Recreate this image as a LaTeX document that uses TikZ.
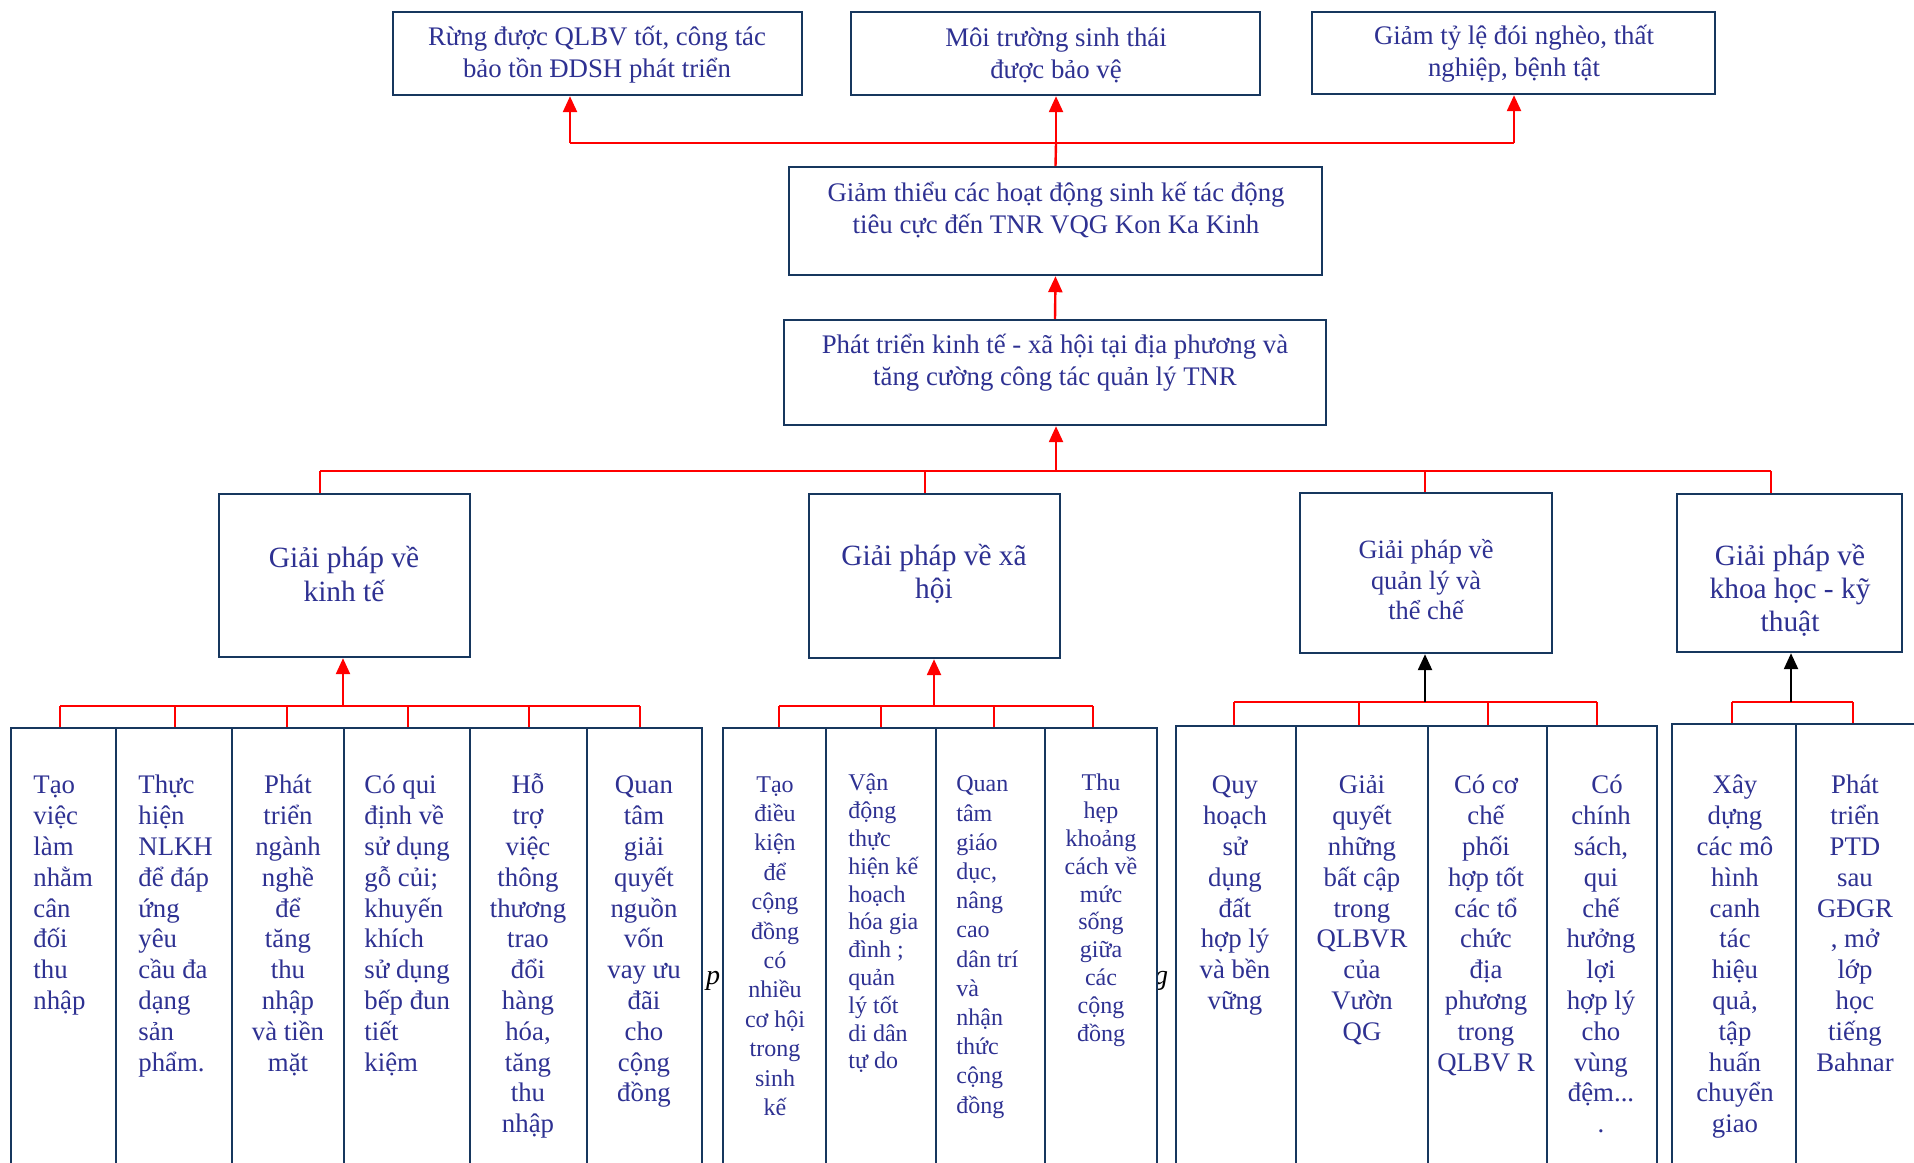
\documentclass[tikz,border=0pt]{standalone}
\usepackage{fontspec}
\setmainfont{Liberation Serif}
\usetikzlibrary{fit,arrows.meta}
\definecolor{txtblue}{RGB}{46,49,146}
\definecolor{boxblue}{RGB}{23,55,94}
\newcommand\bx[5]{\node[box,fit={(#2,#3) (#4,#5)}] (#1) {};}
\begin{document}
\begin{tikzpicture}[x=0.5pt,y=-0.5pt,
  box/.style={draw=boxblue,line width=1.2pt,fill=white,inner sep=0pt},
  txt/.style={text=txtblue,inner sep=0pt,align=center,font=\fontsize{13.4}{16}\selectfont},
  head/.style={txt,font=\fontsize{14.7}{16.6}\selectfont},
  cola/.style={text=txtblue,inner sep=0pt,anchor=north,align=center,font=\fontsize{13.4}{15.4}\selectfont},
  coll/.style={cola,anchor=north west,align=left},
  colb/.style={cola,font=\fontsize{12}{14.7}\selectfont},
  colbl/.style={coll,font=\fontsize{12}{13.9}\selectfont},
  redline/.style={draw=red,line width=1.2pt},
  redarrow/.style={redline,-{Triangle[length=8pt,width=7pt]}},
  blackarrow/.style={draw=black,line width=1.2pt,-{Triangle[length=8pt,width=7pt]}},
  stray/.style={inner sep=0pt,font=\fontsize{14}{16}\selectfont\itshape}]
\useasboundingbox (0,0) rectangle (1914,1162);
\clip (0,0) rectangle (1914,1162);

% fragments of a hidden caption
\node[stray] (sp) at (713,981) {p};
\node[stray] (sg) at (1161,981) {g};

% top level
\bx{t1}{393}{12}{802}{95}
\bx{t2}{851}{12}{1260}{95}
\bx{t3}{1312}{12}{1715}{94}
\node[txt] (t1t) at (597,55) {Rừng được QLBV tốt, công tác\\bảo tồn ĐDSH phát triển};
\node[txt] (t2t) at (1056,55) {Môi trường sinh thái\\được bảo vệ};
\node[txt] (t3t) at (1514,54) {Giảm tỷ lệ đói nghèo, thất\\nghiệp, bệnh tật};

\bx{m1}{789}{167}{1322}{275}
\node[txt] (m1t) at (1056,210) {Giảm thiểu các hoạt động sinh kế tác động\\tiêu cực đến TNR VQG Kon Ka Kinh};
\bx{m2}{784}{320}{1326}{425}
\node[txt] (m2t) at (1055,363) {Phát triển kinh tế - xã hội tại địa phương và\\tăng cường công tác quản lý TNR};

% level 3
\bx{k}{219}{494}{470}{657}
\bx{xh}{809}{494}{1060}{658}
\bx{q}{1300}{493}{1552}{653}
\bx{s}{1677}{494}{1902}{652}
\node[head] (kt) at (344,574) {Giải pháp về\\kinh tế};
\node[head] (xht) at (934,574) {Giải pháp về xã\\hội};
\node[txt,font=\fontsize{13.2}{15.25}\selectfont] (qt) at (1426,580) {Giải pháp về\\quản lý và\\thể chế};
\node[head] (st) at (1790,590) {Giải pháp về\\khoa học - kỹ\\thuật};

% bottom columns
\bx{a1}{11}{728}{116}{1190}
\bx{a2}{116}{728}{232}{1190}
\bx{a3}{232}{728}{344}{1190}
\bx{a4}{344}{728}{470}{1190}
\bx{a5}{470}{728}{587}{1190}
\bx{a6}{587}{728}{702}{1190}
\bx{b1}{723}{728}{826}{1190}
\bx{b2}{826}{728}{936}{1190}
\bx{b3}{936}{728}{1045}{1190}
\bx{b4}{1045}{728}{1157}{1190}
\bx{c1}{1176}{726}{1296}{1190}
\bx{c2}{1296}{726}{1428}{1190}
\bx{c3}{1428}{726}{1547}{1190}
\bx{c4}{1547}{726}{1657}{1190}
\bx{d1}{1672}{724}{1796}{1190}
\bx{d2}{1796}{724}{1950}{1190}

\node[coll] (a1t) at (33,772) {\strut Tạo\\việc\\làm\\nhằm\\cân\\đối\\thu\\nhập};
\node[coll] (a2t) at (138,772) {\strut Thực\\hiện\\NLKH\\để đáp\\ứng\\yêu\\cầu đa\\dạng\\sản\\phẩm.};
\node[cola] (a3t) at (288,772) {\strut Phát\\triển\\ngành\\nghề\\để\\tăng\\thu\\nhập\\và tiền\\mặt};
\node[coll] (a4t) at (364,772) {\strut Có qui\\định về\\sử dụng\\gỗ củi;\\khuyến\\khích\\sử dụng\\bếp đun\\tiết\\kiệm};
\node[cola] (a5t) at (528,772) {\strut Hỗ\\trợ\\việc\\thông\\thương\\trao\\đổi\\hàng\\hóa,\\tăng\\thu\\nhập};
\node[cola] (a6t) at (644,772) {\strut Quan\\tâm\\giải\\quyết\\nguồn\\vốn\\vay ưu\\đãi\\cho\\cộng\\đồng};

\node[colb] (b1t) at (775,771) {\strut Tạo\\điều\\kiện\\để\\cộng\\đồng\\có\\nhiều\\cơ hội\\trong\\sinh\\kế};
\node[colbl] (b2t) at (848,771) {\strut Vận\\động\\thực\\hiện kế\\hoạch\\hóa gia\\đình ;\\quản\\lý tốt\\di dân\\tự do};
\node[colbl,font=\fontsize{12}{14.6}\selectfont] (b3t) at (956,771) {\strut Quan\\tâm\\giáo\\dục,\\nâng\\cao\\dân trí\\và\\nhận\\thức\\cộng\\đồng};
\node[colb,font=\fontsize{12}{13.9}\selectfont] (b4t) at (1101,771) {\strut Thu\\hẹp\\khoảng\\cách về\\mức\\sống\\giữa\\các\\cộng\\đồng};

\node[cola] (c1t) at (1235,772) {\strut Quy\\hoạch\\sử\\dụng\\đất\\hợp lý\\và bền\\vững};
\node[cola] (c2t) at (1362,772) {\strut Giải\\quyết\\những\\bất cập\\trong\\QLBVR\\của\\Vườn\\QG};
\node[cola] (c3t) at (1486,772) {\strut Có cơ\\chế\\phối\\hợp tốt\\các tổ\\chức\\địa\\phương\\trong\\QLBV R};
\node[cola] (c4t) at (1601,772) {\strut \hspace{6pt}Có\\chính\\sách,\\qui\\chế\\hưởng\\lợi\\hợp lý\\cho\\vùng\\đệm...\\.};

\node[cola] (d1t) at (1735,772) {\strut Xây\\dựng\\các mô\\hình\\canh\\tác\\hiệu\\quả,\\tập\\huấn\\chuyển\\giao};
\node[cola] (d2t) at (1855,772) {\strut Phát\\triển\\PTD\\sau\\GĐGR\\, mở\\lớp\\học\\tiếng\\Bahnar};

% connectors: top
\coordinate (tj1) at (570,143);
\coordinate (tj2) at (1056,143);
\coordinate (tj3) at (1514,143);
\draw[redline] (tj1) -- (tj3);
\draw[redline] (m1.north) -- (tj2);
\draw[redarrow] (tj1) -- (tj1 |- t1.south);
\draw[redarrow] (tj2) -- (tj2 |- t2.south);
\draw[redarrow] (tj3) -- (tj3 |- t3.south);
\draw[redarrow] (m2.north) -- (m1.south);

% level 3
\coordinate (lj) at (1056,471);
\coordinate (lk) at (320,471);
\coordinate (lx) at (925,471);
\coordinate (lq) at (1425,471);
\coordinate (ls) at (1771,471);
\draw[redarrow] (lj) -- (lj |- m2.south);
\draw[redline] (lk) -- (ls);
\draw[redline] (lk) -- (lk |- k.north);
\draw[redline] (lx) -- (lx |- xh.north);
\draw[redline] (lq) -- (lq |- q.north);
\draw[redline] (ls) -- (ls |- s.north);

% group 1
\coordinate (g1j) at (343,706);
\foreach \xx/\nn in {60/a1,175/a2,287/a3,408/a4,529/a5,640/a6}{
  \coordinate (p\nn) at (\xx,706);
  \draw[redline] (p\nn) -- (p\nn |- \nn.north);
}
\draw[redline] (pa1) -- (pa6);
\draw[redarrow] (g1j) -- (g1j |- k.south);

% group 2
\coordinate (g2j) at (934,706);
\foreach \xx/\nn in {779/b1,881/b2,994/b3,1093/b4}{
  \coordinate (p\nn) at (\xx,706);
  \draw[redline] (p\nn) -- (p\nn |- \nn.north);
}
\draw[redline] (pb1) -- (pb4);
\draw[redarrow] (g2j) -- (g2j |- xh.south);

% group 3
\coordinate (g3j) at (1425,702);
\foreach \xx/\nn in {1234/c1,1359/c2,1488/c3,1597/c4}{
  \coordinate (p\nn) at (\xx,702);
  \draw[redline] (p\nn) -- (p\nn |- \nn.north);
}
\draw[redline] (pc1) -- (pc4);
\draw[blackarrow] (g3j) -- (g3j |- q.south);

% group 4
\coordinate (g4j) at (1791,702);
\foreach \xx/\nn in {1732/d1,1853/d2}{
  \coordinate (p\nn) at (\xx,702);
  \draw[redline] (p\nn) -- (p\nn |- \nn.north);
}
\draw[redline] (pd1) -- (pd2);
\draw[blackarrow] (g4j) -- (g4j |- s.south);
\end{tikzpicture}
\end{document}
